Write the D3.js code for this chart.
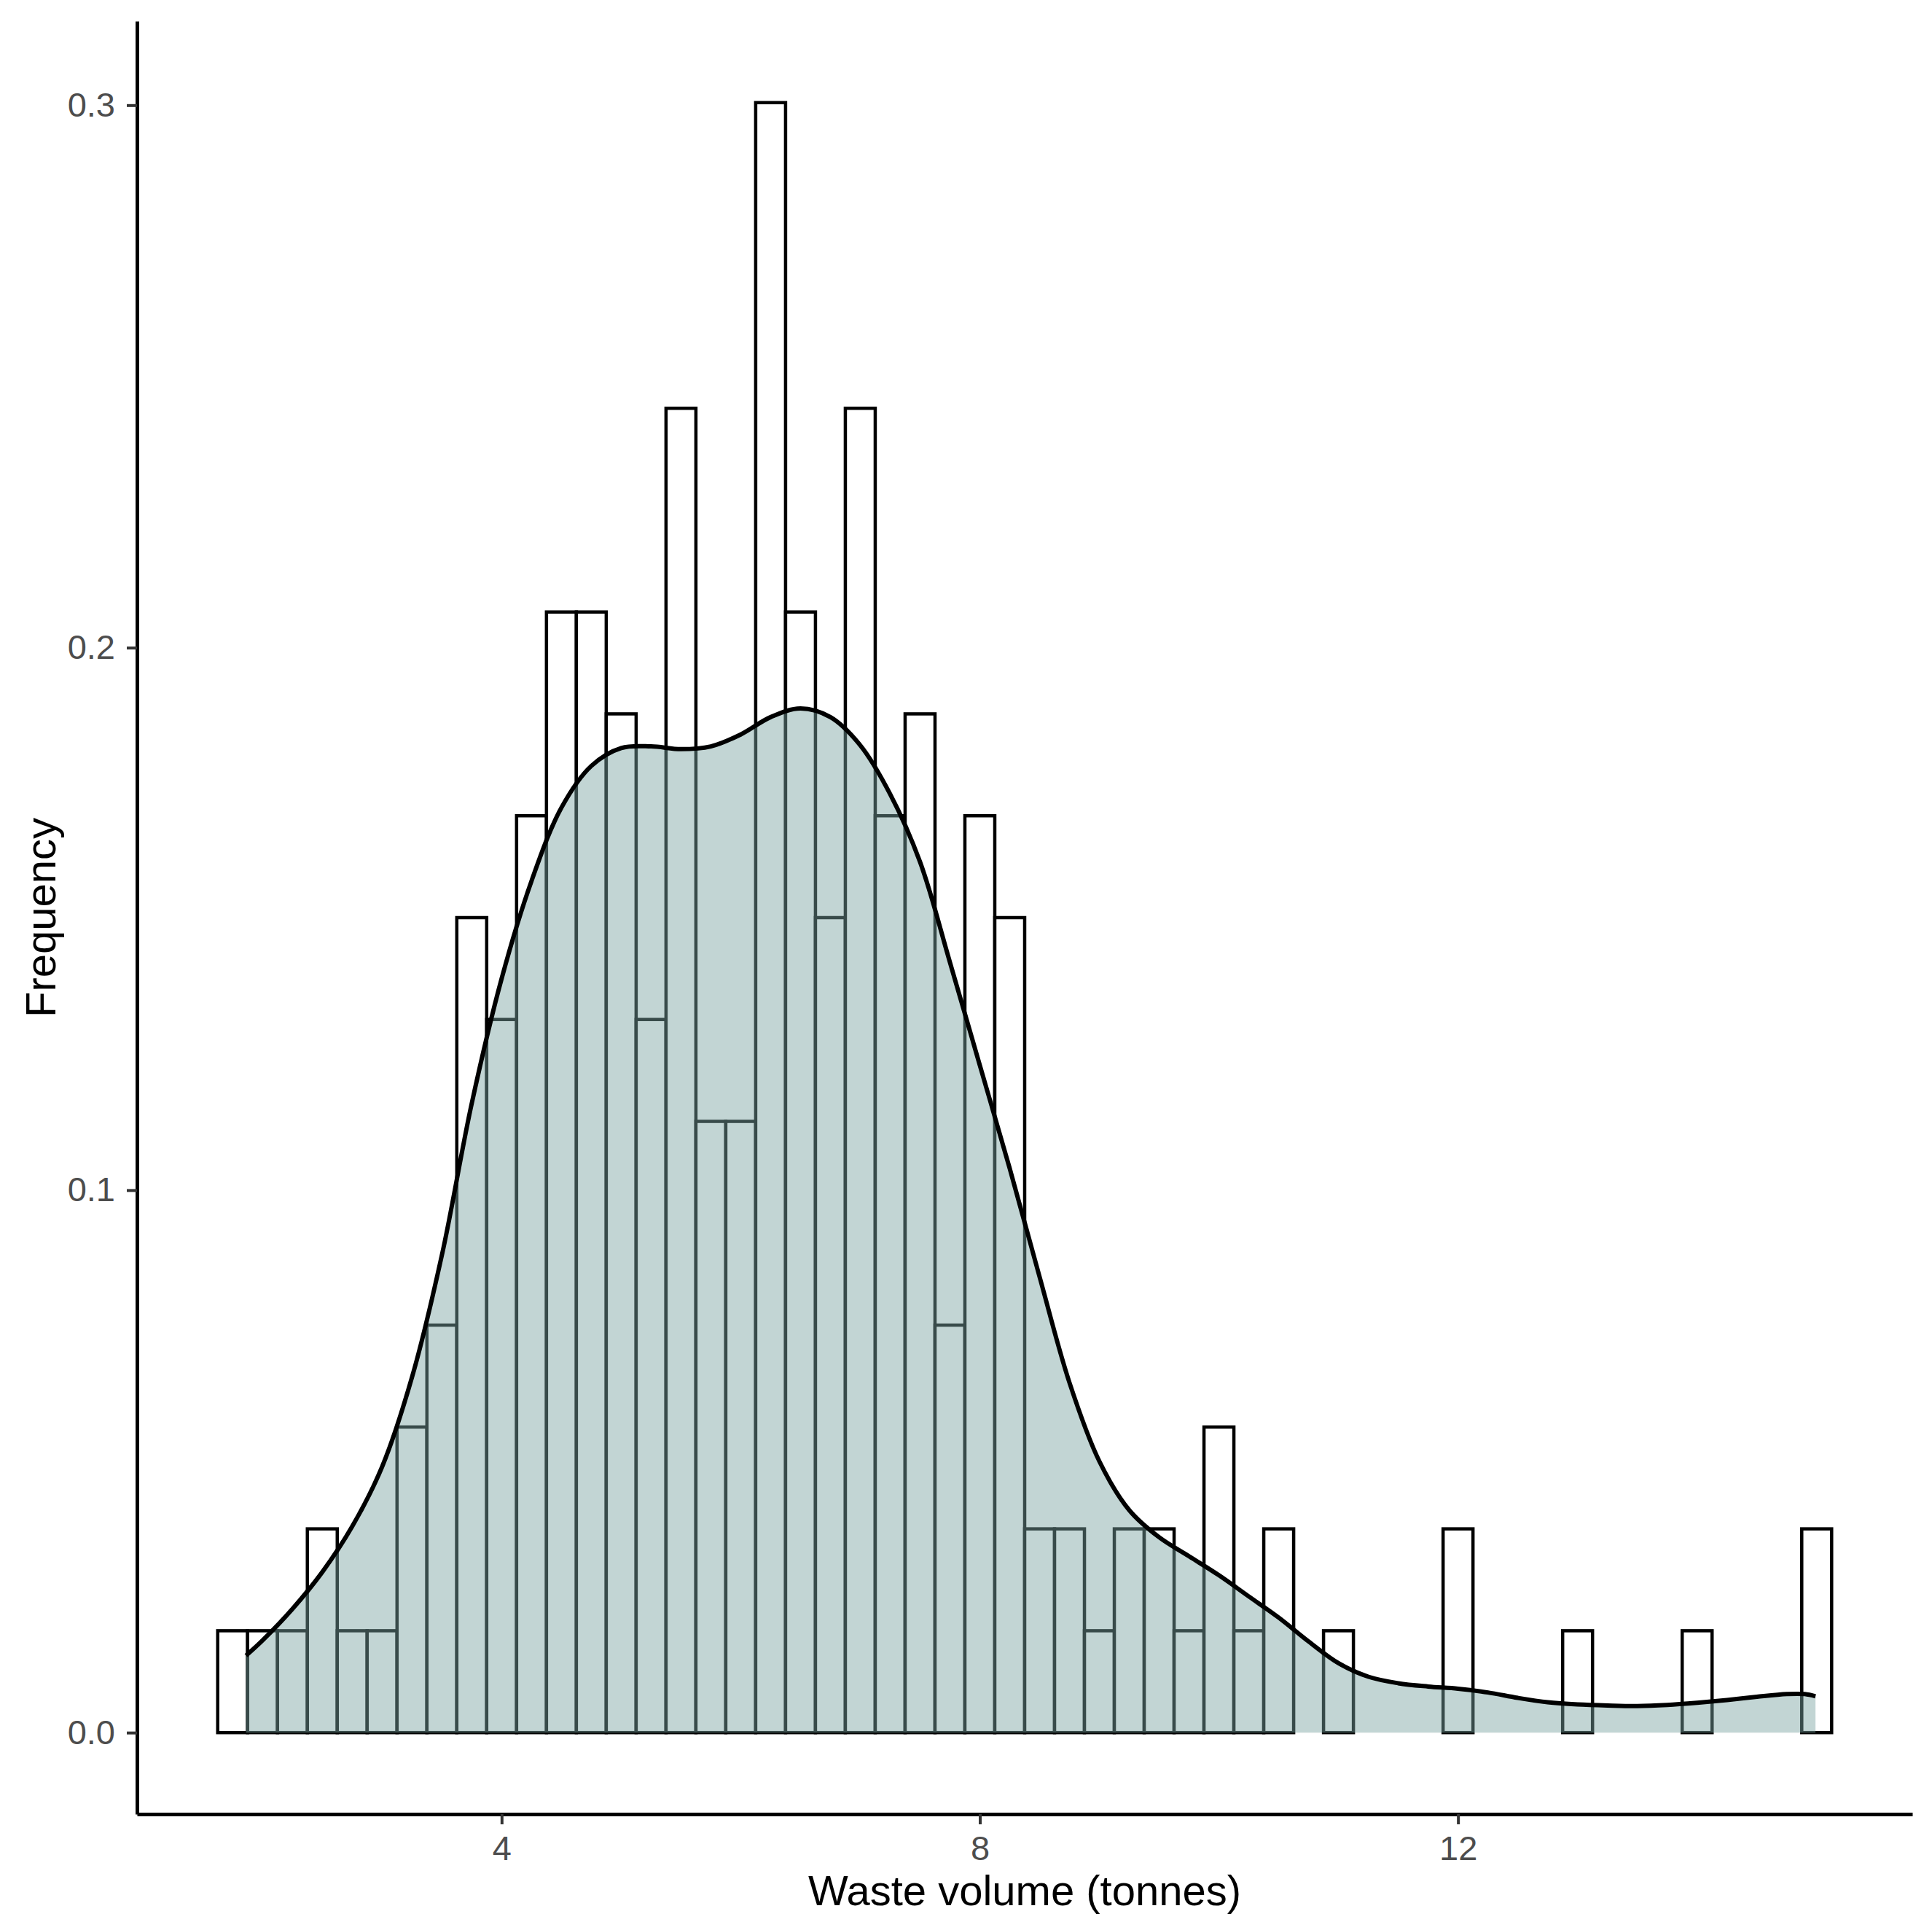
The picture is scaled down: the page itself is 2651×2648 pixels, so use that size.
<!DOCTYPE html>
<html>
<head>
<meta charset="utf-8">
<script src="https://cdn.jsdelivr.net/npm/d3@7"></script>
<style>
  html, body { margin: 0; padding: 0; background: #ffffff; }
  svg { display: block; }
</style>
</head>
<body>
<svg id="chart"></svg>
<script>
// ---------------- data ----------------
const binLeft = [1.625,1.875,2.125,2.375,2.625,2.875,3.125,3.375,3.625,3.875,
  4.125,4.375,4.625,4.875,5.125,5.375,5.625,5.875,6.125,6.375,
  6.625,6.875,7.125,7.375,7.625,7.875,8.125,8.375,8.625,8.875,
  9.125,9.375,9.625,9.875,10.125,10.375,10.625,10.875,11.125,11.375,
  11.625,11.875,12.125,12.375,12.625,12.875,13.125,13.375,13.625,13.875,
  14.125,14.375,14.625,14.875];
const binCounts = [1,1,1,2,1,1,3,4,8,7,
  9,11,11,10,7,13,6,6,16,11,
  8,13,9,10,4,9,8,2,2,1,
  2,2,1,3,1,2,0,1,0,0,
  0,2,0,0,0,1,0,0,0,1,
  0,0,0,2];
const binWidth = 0.25;
const nObs = 213;

const densityX = [1.862,2.0,2.25,2.5,2.75,3.0,3.25,3.5,3.75,4.0,
  4.25,4.5,4.75,5.0,5.25,5.5,5.75,6.0,6.25,6.5,
  6.75,7.0,7.25,7.5,7.75,8.0,8.25,8.5,8.75,9.0,
  9.25,9.5,9.75,10.0,10.25,10.5,10.75,11.0,11.25,11.5,
  11.75,12.0,12.25,12.5,12.75,13.0,13.25,13.5,13.75,14.0,
  14.25,14.5,14.75,14.9,14.99];
const densityY = [0.0142,0.0170,0.0228,0.0296,0.0380,0.0490,0.0655,0.0880,0.1160,0.1390,
  0.1570,0.1705,0.1782,0.1815,0.1818,0.1813,0.1818,0.1840,0.1872,0.1888,
  0.1872,0.1820,0.1730,0.1605,0.1420,0.1230,0.1040,0.0840,0.0645,0.0500,
  0.0410,0.0360,0.0325,0.0290,0.0251,0.0212,0.0168,0.0128,0.0103,0.0091,
  0.0085,0.0081,0.0074,0.0064,0.0056,0.0052,0.0050,0.0049,0.0051,0.0055,
  0.0060,0.0066,0.0071,0.0071,0.0067];

const xTicks = [4, 8, 12];
const yTicks = [0.0, 0.1, 0.2, 0.3];
const xTitle = "Waste volume (tonnes)";
const yTitle = "Frequency";

// ---------------- layout ----------------
const W = 2651, H = 2648;
const plot = { left: 188, right: 2624, top: 29, bottom: 2489 };
const FONT = "'Liberation Sans', Arial, Helvetica, sans-serif";

const svg = d3.select("#chart").attr("width", W).attr("height", H)
  .attr("viewBox", `0 0 ${W} ${H}`);
svg.append("rect").attr("width", W).attr("height", H).attr("fill", "#ffffff");

const bins = binLeft.map((x0, i) => ({
  x0: x0, x1: x0 + binWidth, density: binCounts[i] / (nObs * binWidth)
}));
const dens = densityX.map((x, i) => ({ x: x, y: densityY[i] }));

const xMin = d3.min(binLeft), xMax = d3.max(binLeft) + binWidth;
const xPad = (xMax - xMin) * 0.05;
const yMax = d3.max(bins, d => d.density);
const yPad = yMax * 0.05;

const x = d3.scaleLinear().domain([xMin - xPad, xMax + xPad]).range([plot.left, plot.right]);
const y = d3.scaleLinear().domain([-yPad, yMax + yPad]).range([plot.bottom, plot.top]);

// ---------------- histogram ----------------
svg.append("g").attr("class", "bars")
  .selectAll("rect").data(bins).join("rect")
  .attr("x", d => x(d.x0))
  .attr("y", d => y(d.density))
  .attr("width", d => x(d.x1) - x(d.x0))
  .attr("height", d => y(0) - y(d.density))
  .attr("fill", "#ffffff")
  .attr("stroke", "#000000")
  .attr("stroke-width", 4.5);

// ---------------- density ----------------
const curve = d3.curveCatmullRom.alpha(0.5);
const area = d3.area()
  .x(d => x(d.x)).y0(y(0)).y1(d => y(d.y))
  .curve(curve);
const line = d3.line()
  .x(d => x(d.x)).y(d => y(d.y))
  .curve(curve);

const gDens = svg.append("g").attr("class", "density");
gDens.append("path").datum(dens)
  .attr("d", area)
  .attr("fill", "rgb(122,163,161)")
  .attr("fill-opacity", 0.46)
  .attr("stroke", "none");
gDens.append("path").datum(dens)
  .attr("d", line)
  .attr("fill", "none")
  .attr("stroke", "#000000")
  .attr("stroke-width", 6)
  .attr("stroke-linejoin", "round");

// ---------------- axes ----------------
const xAxis = d3.axisBottom(x).tickValues(xTicks).tickFormat(d3.format("d"))
  .tickSizeInner(14).tickSizeOuter(0).tickPadding(16);
const yAxis = d3.axisLeft(y).tickValues(yTicks).tickFormat(d3.format(".1f"))
  .tickSizeInner(14).tickSizeOuter(0).tickPadding(16);

const gx = svg.append("g").attr("transform", `translate(0,${plot.bottom})`).call(xAxis);
const gy = svg.append("g").attr("transform", `translate(${plot.left},0)`).call(yAxis);

[gx, gy].forEach(g => {
  g.select(".domain").attr("stroke", "#000000").attr("stroke-width", 5);
  g.selectAll(".tick line").attr("stroke", "#333333").attr("stroke-width", 4);
  g.selectAll(".tick text")
    .attr("fill", "#4d4d4d")
    .style("font-family", FONT)
    .style("font-size", "47px");
});

// ---------------- titles ----------------
svg.append("text")
  .attr("x", (plot.left + plot.right) / 2)
  .attr("y", 2614)
  .attr("text-anchor", "middle")
  .style("font-family", FONT)
  .style("font-size", "58px")
  .attr("fill", "#000000")
  .text(xTitle);

svg.append("text")
  .attr("transform", `translate(76,${(plot.top + plot.bottom) / 2}) rotate(-90)`)
  .attr("text-anchor", "middle")
  .style("font-family", FONT)
  .style("font-size", "58px")
  .attr("fill", "#000000")
  .text(yTitle);
</script>
</body>
</html>
